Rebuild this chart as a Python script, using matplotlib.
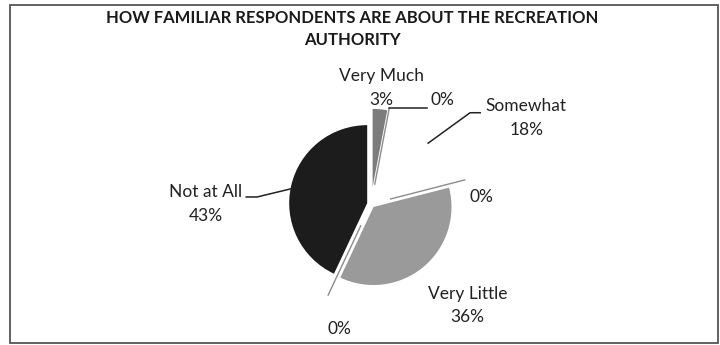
import numpy as np
import matplotlib.pyplot as plt
from matplotlib.patches import Rectangle

# slices, clockwise from 12 o'clock
categories = ["Very Much", "", "Somewhat", "", "Very Little", "", "Not at All"]
shares = [3, 0, 18, 0, 36, 0, 43]
pct_labels = ["3%", "0%", "18%", "0%", "36%", "0%", "43%"]

colors = ["#7c7c7c", "#ffffff", "#ffffff", "#ffffff", "#9a9a9a", "#ffffff", "#1c1c1c"]
explode = [0.22, 0.25, 0.1, 0.25, 0.05, 0.3, 0.05]
# label centres in radius units relative to pie centre
label_pos = [(0.13, 1.49), (0.92, 1.33), (1.99, 1.10), (1.42, 0.09),
             (1.24, -1.30), (-0.40, -1.60), (-2.12, 0.0)]

W, H = 720, 345
R = 78.0
cx, cy = 371, 204  # pie centre in pixels from top-left

fig = plt.figure(figsize=(W / 100, H / 100), dpi=100)
ax = fig.add_axes([0, 0, 1, 1])

font = "Lato"
txt_color = "#222222"

wedges, _ = ax.pie(shares, colors=colors, explode=explode, startangle=90,
                   counterclock=False, radius=1.0,
                   wedgeprops=dict(linewidth=0))
for w, v in zip(wedges, shares):
    if v == 0:
        w.set_edgecolor("#8c8c8c")
        w.set_linewidth(1.0)

ax.set_aspect("auto")
ax.set_xlim(-cx / R, (W - cx) / R)
ax.set_ylim(-(H - cy) / R, cy / R)
ax.axis("off")

for cat, pct, (lx, ly) in zip(categories, pct_labels, label_pos):
    text = f"{cat}\n{pct}" if cat else pct
    ax.text(lx, ly, text, ha="center", va="center", fontsize=12.5,
            family=font, color=txt_color, linespacing=1.6)

def tip(i, r=1.0):
    w = wedges[i]
    mid = np.deg2rad((w.theta1 + w.theta2) / 2)
    x0, y0 = w.center
    return x0 + r * np.cos(mid), y0 + r * np.sin(mid)

# leader lines
t = tip(1)
ax.plot([t[0], 0.72], [t[1], t[1]], color="#222222", lw=1.1)
t = tip(2, 0.97)
ax.plot([t[0], 1.27, 1.4], [t[1], 1.17, 1.17], color="#222222", lw=1.1)
t = tip(6, 1.0)
ax.plot([t[0] + 0.02, -1.46, -1.6], [0.2, 0.09, 0.09], color="#222222", lw=1.1)

fig.text(352 / W, 1 - 10 / H,
         "HOW FAMILIAR RESPONDENTS ARE ABOUT THE RECREATION\nAUTHORITY",
         ha="center", va="top", fontsize=12, fontweight="bold",
         family=font, color="#1a1a1a", linespacing=1.45)

fig.patches.append(Rectangle((10 / W, 2 / H), 708 / W, 338 / H,
                             transform=fig.transFigure, fill=False,
                             edgecolor="#555555", linewidth=1.3))

fig.savefig("out.png", dpi=100)
